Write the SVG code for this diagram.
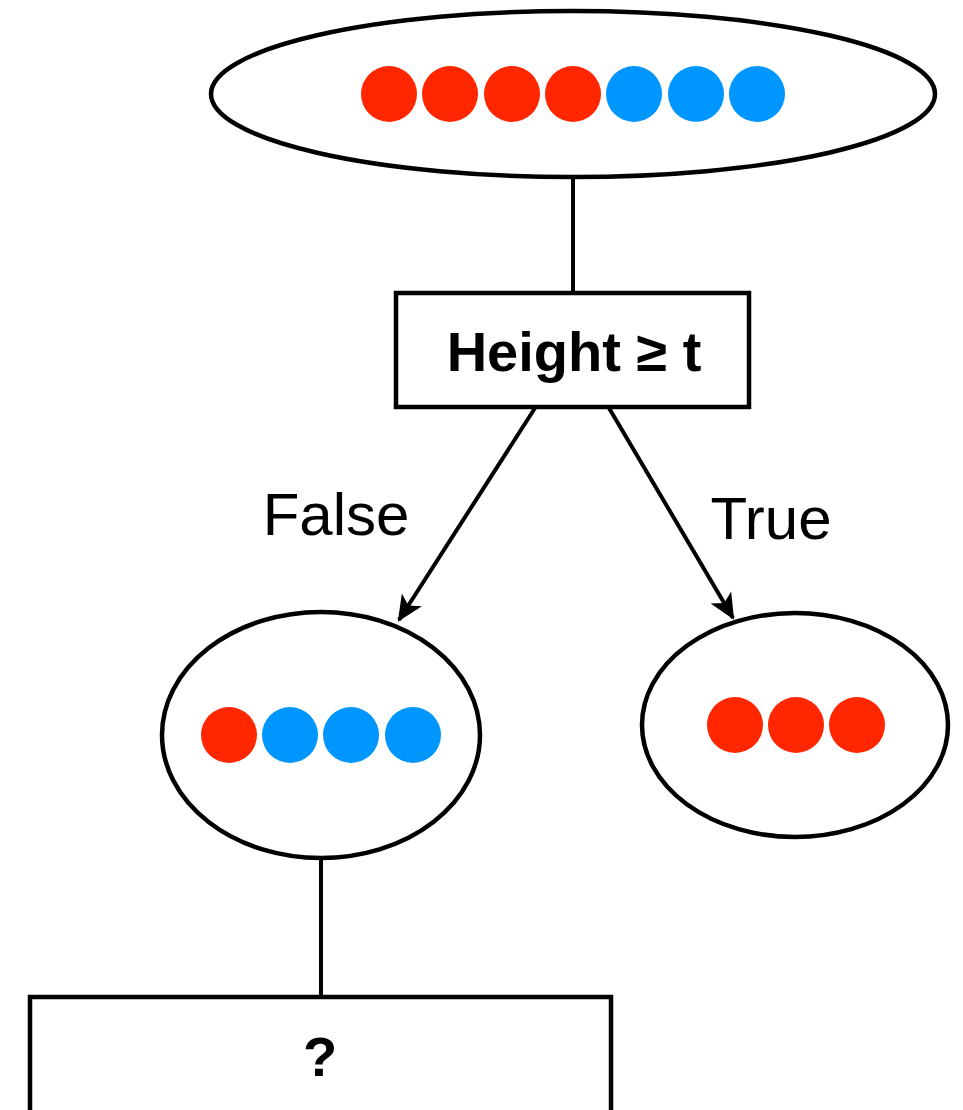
<svg xmlns="http://www.w3.org/2000/svg" width="963" height="1110" viewBox="0 0 963 1110">
  <style>
    .shape { fill: #ffffff; stroke: #000000; stroke-width: 4.5; }
    .edge { fill: none; stroke: #000000; stroke-width: 4; }
    .red { fill: #ff2600; }
    .blue { fill: #0096ff; }
    .label { font-family: "Liberation Sans", Arial, sans-serif; fill: #000000; text-anchor: middle; }
    .bold { font-weight: bold; font-size: 56px; }
    .branch { font-size: 60px; }
  </style>
  <defs>
    <marker id="arrow" viewBox="0 0 24 24" refX="22" refY="12" markerWidth="26" markerHeight="26" markerUnits="userSpaceOnUse" orient="auto">
      <path d="M0,1 L24,12 L0,23 L6,12 Z" fill="#000000"/>
    </marker>
  </defs>

  <g id="connectors">
    <line class="edge" x1="573" y1="178" x2="573" y2="292"/>
    <line class="edge" x1="535" y1="408" x2="399" y2="620" marker-end="url(#arrow)"/>
    <line class="edge" x1="609" y1="408" x2="733" y2="618" marker-end="url(#arrow)"/>
    <line class="edge" x1="321" y1="858" x2="321" y2="997"/>
  </g>

  <g id="root">
    <ellipse class="shape" cx="573" cy="94" rx="362" ry="83"/>
    <circle class="red" cx="389" cy="94" r="28"/>
    <circle class="red" cx="450" cy="94" r="28"/>
    <circle class="red" cx="512" cy="94" r="28"/>
    <circle class="red" cx="573" cy="94" r="28"/>
    <circle class="blue" cx="634" cy="94" r="28"/>
    <circle class="blue" cx="696" cy="94" r="28"/>
    <circle class="blue" cx="757" cy="94" r="28"/>
  </g>

  <g id="split">
    <rect class="shape" x="396" y="293" width="353" height="114"/>
    <text class="label bold" x="574" y="371">Height ≥ t</text>
  </g>

  <g id="label-false">
    <text class="label branch" x="336" y="535">False</text>
  </g>
  <g id="label-true">
    <text class="label branch" x="771" y="539">True</text>
  </g>

  <g id="false-node">
    <ellipse class="shape" cx="321" cy="735" rx="159" ry="123"/>
    <circle class="red" cx="229" cy="735" r="28"/>
    <circle class="blue" cx="290" cy="735" r="28"/>
    <circle class="blue" cx="351" cy="735" r="28"/>
    <circle class="blue" cx="413" cy="735" r="28"/>
  </g>

  <g id="true-node">
    <ellipse class="shape" cx="795" cy="725" rx="153" ry="112"/>
    <circle class="red" cx="735" cy="725" r="28"/>
    <circle class="red" cx="796" cy="725" r="28"/>
    <circle class="red" cx="857" cy="725" r="28"/>
  </g>

  <g id="next-split">
    <rect class="shape" x="30" y="997" width="581" height="125"/>
    <text class="label bold" x="320" y="1076">?</text>
  </g>
</svg>
